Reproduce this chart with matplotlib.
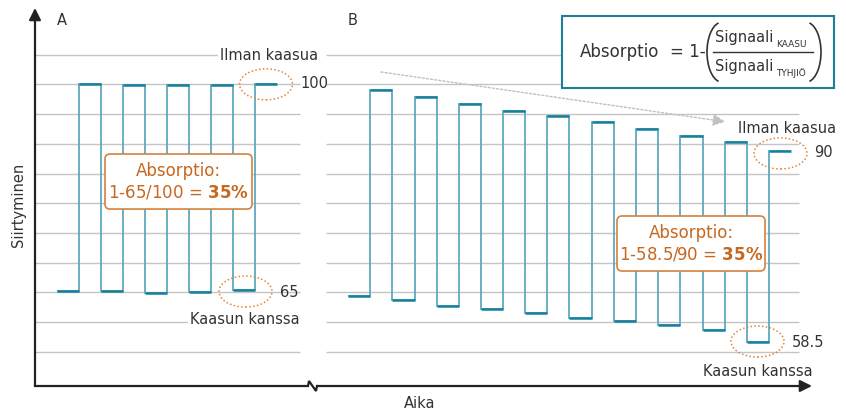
import matplotlib.pyplot as plt
from matplotlib.patches import Ellipse, FancyBboxPatch, Rectangle, Arc

# signal A: switching times and plateau levels (low = with gas, high = without gas)
a_edges = [57, 79, 101, 123, 145, 167, 189, 211, 233, 255, 277]
a_low = [65.25, 65.25, 64.96, 65.13, 65.42]
a_high = [100.0, 99.8, 99.8, 99.8, 100.0]

# signal B: drifting baseline
b_edges = [348, 370.3, 392.3, 414.7, 436.7, 459.3, 481.3, 503.3, 525.3, 547.3,
           569.3, 591.7, 613.7, 636, 658, 680.3, 702.7, 724.5, 746.5, 769, 790.7]
b_low = [64.46, 63.74, 62.78, 62.22, 61.60, 60.76, 60.26, 59.53, 58.69, 56.62]
b_high = [99.04, 97.81, 96.64, 95.51, 94.72, 93.61, 92.48, 91.36, 90.30, 88.84]

grid_vals = [105, 100, 95, 90, 85, 80, 75, 70, 65, 60, 55]

TEAL = '#17809b'
TEAL_LIGHT = '#5fa9bf'
ORANGE = '#c8671e'
TXT = '#333333'
PX = 5.948  # pixels per signal unit


def interleave(lows, highs):
    levels = []
    for lo, hi in zip(lows, highs):
        levels += [lo, hi]
    return levels


fig = plt.figure(figsize=(8.46, 4.12), dpi=100)
ax = fig.add_axes([0, 0, 1, 1])
ax.set_xlim(0, 846)
ax.set_ylim(44.91, 114.17)
ax.axis('off')

# grid lines of both panels
ax.hlines(grid_vals, 35, 300, color='#c4c4c4', lw=1, zorder=1)
ax.hlines(grid_vals, 326, 799, color='#c4c4c4', lw=1, zorder=1)

# square-wave traces
for edges, lows, highs in [(a_edges, a_low, a_high), (b_edges, b_low, b_high)]:
    levels = interleave(lows, highs)
    ax.stairs(levels, edges, baseline=None, color=TEAL_LIGHT, lw=1.3, zorder=3)
    ax.hlines(levels, edges[:-1], edges[1:], color=TEAL, lw=1.8, zorder=3)

# axes with arrows and break mark
ax.annotate('', xy=(35, 112.83), xytext=(35, 49.28),
            arrowprops=dict(arrowstyle='-|>,head_length=0.5,head_width=0.25',
                            color='#222222', lw=1.6, shrinkA=0, shrinkB=0, mutation_scale=14))
ax.plot([35, 308, 309, 316, 317], [49.28, 49.28, 50.12, 48.44, 49.28],
        color='#222222', lw=1.6, solid_joinstyle='miter')
ax.annotate('', xy=(812, 49.28), xytext=(317, 49.28),
            arrowprops=dict(arrowstyle='-|>,head_length=0.5,head_width=0.25',
                            color='#222222', lw=1.6, shrinkA=0, shrinkB=0, mutation_scale=14))

ax.text(19, 79.7, 'Siirtyminen', rotation=90, ha='center', va='center', fontsize=10.5, color=TXT)
ax.text(420, 46.42, 'Aika', ha='center', va='center', fontsize=10.5, color=TXT)
ax.text(62, 110.64, 'A', ha='center', va='center', fontsize=10.5, color=TXT)
ax.text(353, 110.64, 'B', ha='center', va='center', fontsize=10.5, color=TXT)

# labels panel A
wb = dict(facecolor='white', edgecolor='none', pad=1.5)
ax.text(220, 104.76, 'Ilman kaasua', ha='left', va='center', fontsize=10.5, color=TXT, bbox=wb, zorder=2)
ax.text(300, 100.05, '100', ha='left', va='center', fontsize=10.5, color=TXT)
ax.text(280, 65.08, '65', ha='left', va='center', fontsize=10.5, color=TXT)
ax.text(190, 60.54, 'Kaasun kanssa', ha='left', va='center', fontsize=10.5, color=TXT, bbox=wb, zorder=2)

# labels panel B
ax.text(738, 92.65, 'Ilman kaasua', ha='left', va='center', fontsize=10.5, color=TXT)
ax.text(814, 88.45, '90', ha='left', va='center', fontsize=10.5, color=TXT)
ax.text(792, 56.51, '58.5', ha='left', va='center', fontsize=10.5, color=TXT)
ax.text(813, 51.8, 'Kaasun kanssa', ha='right', va='center', fontsize=10.5, color=TXT)

# dotted orange ellipses
for cx, cy in [(266, 100.0), (245.5, 65.16), (780.5, 88.37), (757.5, 56.76)]:
    ax.add_patch(Ellipse((cx, cy), 53, 31 / PX, fill=False, edgecolor='#e0853a',
                         lw=1.1, linestyle=(0, (1, 1.5)), zorder=4))

# drift trend arrow
ax.annotate('', xy=(725, 93.71), xytext=(381, 102.07),
            arrowprops=dict(arrowstyle='-|>,head_length=0.6,head_width=0.3', color='#c0c0c0',
                            lw=1, linestyle=(0, (1.5, 1.5)), shrinkA=0, shrinkB=0, mutation_scale=12))

# orange result boxes
for (x0, x1, y0, y1), line2 in [((105, 252, 79.03, 88.28), r'1-65/100 = $\mathbf{35\%}$'),
                                ((617, 765, 68.61, 77.86), r'1-58.5/90 = $\mathbf{35\%}$')]:
    ax.add_patch(FancyBboxPatch((x0, y0), x1 - x0, y1 - y0,
                                boxstyle='round,pad=0,rounding_size=5', mutation_aspect=1 / PX,
                                facecolor='white', edgecolor='#d4823f', lw=1.2, zorder=5))
    cx = (x0 + x1) / 2
    cy = (y0 + y1) / 2
    ax.text(cx, cy + 17.5 / 2 / PX + 0.3, 'Absorptio:', ha='center', va='center', fontsize=12,
            color=ORANGE, zorder=6)
    ax.text(cx, cy - 17.5 / 2 / PX - 0.3, line2, ha='center', va='center', fontsize=12,
            color=ORANGE, zorder=6)

# formula box
ax.add_patch(Rectangle((562, 99.38), 272, 111.48 - 99.38, facecolor='white',
                       edgecolor='#1f7f99', lw=1.5, zorder=5))
ax.text(580, 105.43, 'Absorptio', ha='left', va='center', fontsize=12, color=TXT, zorder=6)
ax.text(670, 105.43, '= 1-', ha='left', va='center', fontsize=12, color=TXT, zorder=6)
ax.add_patch(Arc((722, 105.4), 30, 60 / PX, theta1=125, theta2=235, color=TXT, lw=1.2, zorder=6))
ax.add_patch(Arc((806, 105.4), 30, 60 / PX, theta1=-55, theta2=55, color=TXT, lw=1.2, zorder=6))
ax.plot([713, 813], [105.35, 105.35], color=TXT, lw=1, zorder=6)
ax.text(715, 107.95, 'Signaali', ha='left', va='center', fontsize=10.5, color=TXT, zorder=6)
ax.text(776, 106.61, 'KAASU', ha='left', va='center', fontsize=6.5, color=TXT, zorder=6)
ax.text(715, 102.91, 'Signaali', ha='left', va='center', fontsize=10.5, color=TXT, zorder=6)
ax.text(776, 101.90, 'TYHJIÖ', ha='left', va='center', fontsize=6.5, color=TXT, zorder=6)

fig.savefig('out.png', dpi=100)
